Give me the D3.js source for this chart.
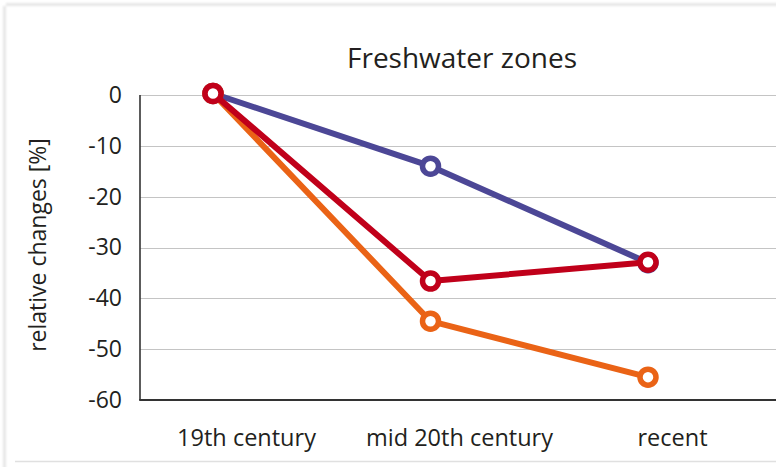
<!DOCTYPE html>
<html>
<head>
<meta charset="utf-8">
<script src="https://cdn.jsdelivr.net/npm/d3@7/dist/d3.min.js"></script>
<style>
  html, body { margin: 0; padding: 0; background: #fff; }
  svg { display: block; }
  text { font-family: "Open Sans", "Noto Sans", sans-serif; fill: #231f20; }
</style>
</head>
<body>
<svg id="chart" width="776" height="467"></svg>
<script>
// Periods on the x axis
const categories = ["19th century", "mid 20th century", "recent"];

// Relative change per series (%)
const blueValues = [0.3, -14, -33];
const orangeValues = [0.3, -44.5, -55.5];
const redValues = [0.3, -36.6, -32.9];

// Y axis ticks
const yTicks = [0, -10, -20, -30, -40, -50, -60];

const titleText = "Freshwater zones";
const yAxisTitle = "relative changes [%]";

const series = [
  { values: blueValues, color: "#4c4796" },
  { values: orangeValues, color: "#ea6316" },
  { values: redValues, color: "#c0001a" }
];

const W = 776, H = 467;
const plot = { left: 140, right: 779, top: 95, bottom: 400 };

const svg = d3.select("#chart");

// Card frame: soft shadow on top/left, thin rule at bottom
const defs = svg.append("defs");
defs.append("filter").attr("id", "soft")
  .attr("x", "-50%").attr("y", "-50%").attr("width", "200%").attr("height", "200%")
  .append("feGaussianBlur").attr("stdDeviation", 1);
const frame = svg.append("g").attr("filter", "url(#soft)");
frame.append("rect").attr("x", 6).attr("y", 3).attr("width", W).attr("height", 3).attr("fill", "#e6e6e6");
frame.append("rect").attr("x", 3).attr("y", 6).attr("width", 3).attr("height", H).attr("fill", "#e6e6e6");
svg.append("line").attr("x1", 15).attr("x2", W).attr("y1", 461.5).attr("y2", 461.5)
  .attr("stroke", "#e0e0e0").attr("stroke-width", 1.5);

// Scales
const y = d3.scaleLinear().domain([-60, 0]).range([plot.bottom, plot.top]);
const xBand = d3.scaleBand().domain(categories).range([plot.left, plot.right]);
const xPoint = d3.scalePoint().domain(categories).range([213, 648]);

// Gridlines
svg.append("g")
  .selectAll("line")
  .data(yTicks.filter(d => d !== -60))
  .join("line")
  .attr("x1", plot.left).attr("x2", W)
  .attr("y1", d => Math.round(y(d)) + 0.5).attr("y2", d => Math.round(y(d)) + 0.5)
  .attr("stroke", "#c4c4c4").attr("stroke-width", 1.2);

// Y axis (plain hyphen-minus labels)
const yAxis = d3.axisLeft(y).tickValues(yTicks).tickSize(0).tickPadding(18)
  .tickFormat(d => String(d));
const gy = svg.append("g").attr("transform", `translate(${plot.left},0)`).call(yAxis);
gy.select(".domain").remove();
gy.selectAll("text").attr("font-size", 23).attr("font-family", null).attr("fill", "#231f20");
svg.append("line").attr("x1", plot.left).attr("x2", plot.left)
  .attr("y1", plot.top).attr("y2", plot.bottom)
  .attr("stroke", "#333").attr("stroke-width", 1.6);

// X axis
const xAxis = d3.axisBottom(xBand).tickSize(0).tickPadding(29);
const gx = svg.append("g").attr("transform", `translate(0,${plot.bottom})`).call(xAxis);
gx.select(".domain").remove();
gx.selectAll("text").attr("font-size", 23.5).attr("font-family", null).attr("fill", "#231f20");
svg.append("line").attr("x1", plot.left - 0.8).attr("x2", W)
  .attr("y1", plot.bottom).attr("y2", plot.bottom)
  .attr("stroke", "#333").attr("stroke-width", 2.2);

// Title
svg.append("text").attr("x", 462).attr("y", 68).attr("text-anchor", "middle")
  .attr("font-size", 28).text(titleText);

// Y axis title
svg.append("text")
  .attr("transform", `translate(46,245) rotate(-90)`)
  .attr("text-anchor", "middle").attr("font-size", 23).text(yAxisTitle);

// Lines and markers
const line = d3.line().x((d, i) => xPoint(categories[i])).y(d => y(d));
series.forEach(s => {
  const g = svg.append("g");
  g.append("path").datum(s.values)
    .attr("d", line).attr("fill", "none")
    .attr("stroke", s.color).attr("stroke-width", 6)
    .attr("stroke-linejoin", "round");
  g.selectAll("circle").data(s.values).join("circle")
    .attr("cx", (d, i) => xPoint(categories[i]))
    .attr("cy", d => y(d))
    .attr("r", 8)
    .attr("fill", "#fff")
    .attr("stroke", s.color).attr("stroke-width", 5.5);
});
</script>
</body>
</html>
